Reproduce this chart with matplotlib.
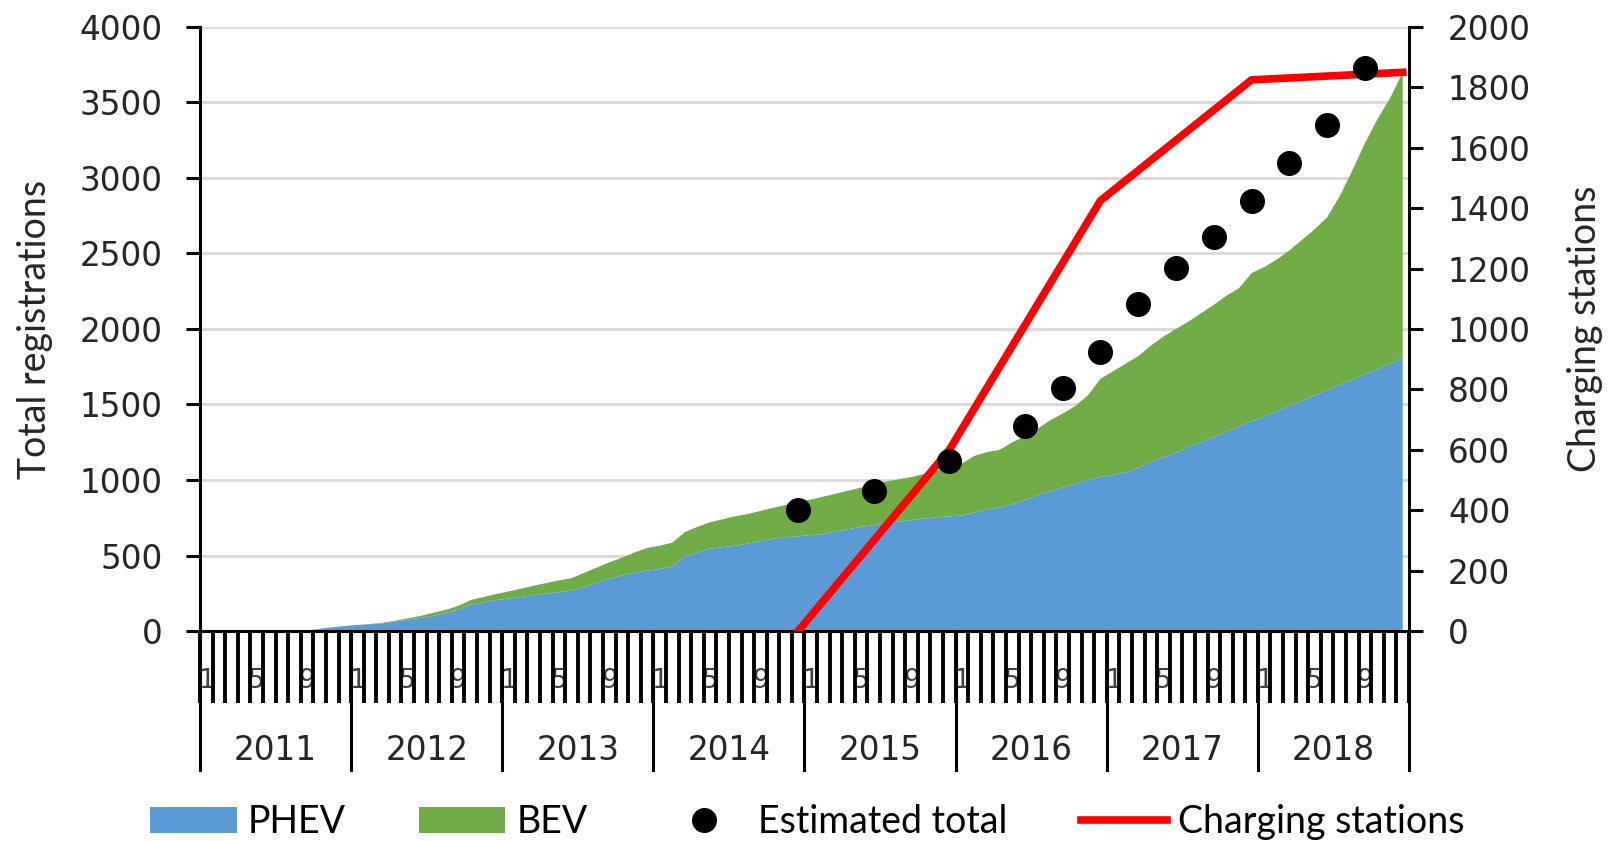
import matplotlib.pyplot as plt
import numpy as np

# monthly cumulative registrations, Jan 2011 .. Dec 2018
years = [2011, 2012, 2013, 2014, 2015, 2016, 2017, 2018]
month_labels = ["1", "5", "9"]

phev = [0, 0, 0, 0, 0, 0, 0, 0, 3, 15, 25, 33,
        40, 45, 50, 62, 75, 88, 100, 120, 140, 175, 190, 205,
        215, 225, 238, 248, 258, 268, 290, 320, 345, 368, 385, 400,
        410, 428, 495, 520, 545, 555, 565, 578, 595, 612, 620, 628,
        635, 642, 660, 675, 690, 700, 715, 725, 735, 745, 752, 760,
        765, 785, 805, 818, 840, 865, 900, 925, 950, 975, 1000, 1020,
        1035, 1050, 1080, 1120, 1150, 1180, 1220, 1250, 1285, 1320, 1355, 1390,
        1420, 1455, 1490, 1525, 1560, 1595, 1630, 1665, 1700, 1735, 1770, 1810]

bev = [0, 0, 0, 0, 0, 0, 0, 0, 0, 0, 0, 0,
       0, 1, 5, 6, 9, 12, 20, 20, 26, 30, 35, 40,
       47, 55, 62, 70, 77, 82, 95, 100, 110, 117, 135, 150,
       155, 157, 160, 170, 175, 185, 195, 197, 200, 203, 215, 227,
       235, 248, 250, 255, 260, 270, 275, 280, 285, 295, 308, 330,
       345, 375, 380, 382, 410, 425, 440, 470, 490, 515, 560, 650,
       685, 720, 740, 770, 800, 820, 830, 855, 875, 900, 915, 980,
       990, 1005, 1030, 1065, 1100, 1145, 1250, 1385, 1530, 1655, 1760, 1890]

# estimated total (month index, value)
est_months = [47, 53, 59, 65, 68, 71, 74, 77, 80, 83, 86, 89, 92]
est_total = [800, 925, 1125, 1355, 1609, 1848, 2166, 2404, 2609, 2848, 3099, 3351, 3728]

# charging stations at year end
station_months = [47, 59, 71, 83, 95]
stations = [0, 600, 1425, 1825, 1850]

narrow = ["Lato", "DejaVu Sans"]
txt = "#262626"

fig = plt.figure(figsize=(16.09, 8.41), dpi=100)
ax = fig.add_axes([0.1243, 0.2497, 0.7514, 0.7182])

months = np.arange(len(phev))
ax.stackplot(months, phev, bev, colors=["#5B9BD5", "#70AD47"],
             labels=["PHEV", "BEV"], zorder=2)
ax.set_xlim(-0.5, 95.5)
ax.set_ylim(0, 4000)
ax.set_yticks(range(0, 4001, 500))
ax.grid(axis="y", color="#D9D9D9", lw=2)
ax.set_axisbelow(True)

ax.set_xticks(np.arange(-0.5, 96, 1))
ax.set_xticklabels([])
ax.tick_params(axis="x", length=52, width=2.8, color="black")
ax.tick_params(axis="y", length=10, width=2.2, labelsize=23.5, pad=17, labelcolor=txt)

for s in ["left", "bottom"]:
    ax.spines[s].set_linewidth(2.2)
for s in ["top", "right"]:
    ax.spines[s].set_visible(False)

# month labels and year labels under the axis
xt = ax.get_xaxis_transform()
for yi, yr in enumerate(years):
    for k, lab in enumerate(month_labels):
        ax.text(yi * 12 + k * 4, -0.083, lab, transform=xt, ha="center", va="center",
                fontsize=19, color="#404040", zorder=0.2, clip_on=False)
    ax.text(yi * 12 + 5.5, -0.198, str(yr), transform=xt, ha="center", va="center",
            fontsize=23.5, color=txt, clip_on=False)
for b in np.arange(-0.5, 96, 12):
    ax.plot([b, b], [0, -0.23], transform=xt, color="black", lw=2.2, clip_on=False)

ax.set_ylabel("Total registrations", family=narrow, fontsize=27, color=txt)
ax.yaxis.set_label_coords(-0.122, 0.5)

ax2 = ax.twinx()
ax2.set_ylim(0, 2000)
ax2.set_yticks(range(0, 2001, 200))
ax2.tick_params(axis="y", length=10, width=2.2, labelsize=23.5, pad=18, labelcolor=txt)
for s in ["top", "left", "bottom"]:
    ax2.spines[s].set_visible(False)
ax2.spines["right"].set_linewidth(2.2)

line, = ax2.plot(station_months, stations, color="#FF0000", lw=5.5,
                 label="Charging stations", zorder=3)
dots, = ax2.plot(est_months, est_total, "o", color="black", ms=17,
                 transform=ax.transData, label="Estimated total", zorder=4)
ax2.set_ylabel("Charging stations", family=narrow, fontsize=27, color=txt)
ax2.yaxis.set_label_coords(1.131, 0.5)

h1, l1 = ax.get_legend_handles_labels()
fig.legend(h1 + [dots, line], l1 + ["Estimated total", "Charging stations"],
           loc="center", bbox_to_anchor=(0.502, 0.022), ncol=4, frameon=False,
           handlelength=2.3, columnspacing=1.95, handletextpad=0.3,
           borderpad=0.2, prop={"family": narrow, "size": 27})

fig.savefig("out.png", dpi=100)
